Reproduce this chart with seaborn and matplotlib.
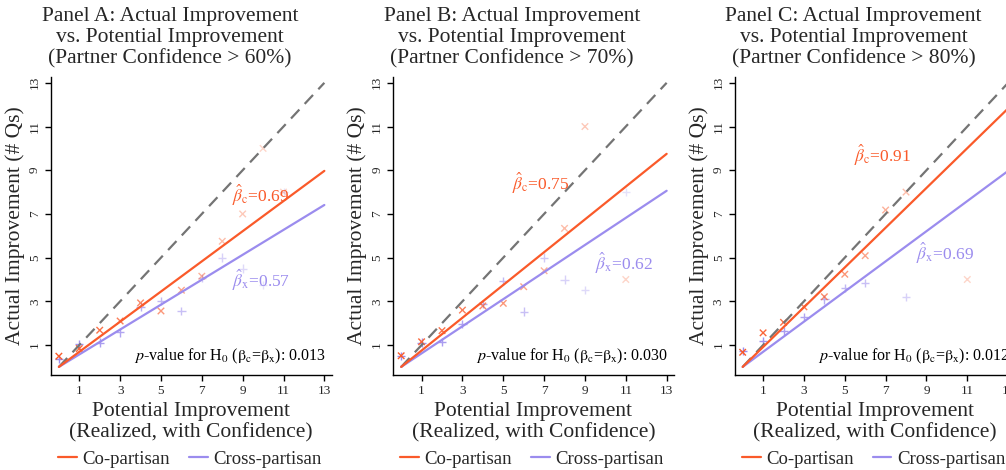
import numpy as np
import pandas as pd
import matplotlib
matplotlib.use("Agg")
import matplotlib.pyplot as plt
import seaborn as sns
from matplotlib.lines import Line2D

sns.set_theme(style="white")
plt.rcParams['font.family'] = ['Liberation Serif', 'DejaVu Serif']
plt.rcParams['mathtext.fontset'] = 'stix'

# ---------------- data ----------------
panel_titles = ["Panel A: Actual Improvement\nvs. Potential Improvement\n(Partner Confidence > 60%)",
                "Panel B: Actual Improvement\nvs. Potential Improvement\n(Partner Confidence > 70%)",
                "Panel C: Actual Improvement\nvs. Potential Improvement\n(Partner Confidence > 80%)"]

co_x_A = [0, 1, 2, 3, 4, 5, 6, 7, 8, 9, 10, 11]
co_y_A = [0.49, 0.84, 1.68, 2.10, 2.93, 2.56, 3.51, 4.15, 5.75, 7.0, 10.0, 8.0]
cr_x_A = [0, 1, 2, 3, 4, 5, 6, 7, 8, 9, 10, 11]
cr_y_A = [0.35, 1.05, 1.11, 1.58, 2.75, 3.01, 2.57, 4.08, 5.0, 4.5, 3.75, 8.0]

co_x_B = [0, 1, 2, 3, 4, 5, 6, 7, 8, 9, 11]
co_y_B = [0.51, 1.15, 1.66, 2.60, 2.79, 2.91, 3.67, 4.40, 6.34, 11.0, 4.0]
cr_x_B = [0, 1, 2, 3, 4, 5, 6, 7, 8, 9, 11]
cr_y_B = [0.51, 1.11, 1.15, 1.95, 2.88, 3.93, 2.53, 5.0, 4.0, 3.52, 8.0]

co_x_C = [0, 1, 2, 3, 4, 5, 6, 7, 8, 11]
co_y_C = [0.67, 1.56, 2.04, 2.75, 3.21, 4.24, 5.09, 7.18, 8.0, 4.0]
cr_x_C = [0, 1, 2, 3, 4, 5, 6, 8]
cr_y_C = [0.74, 1.20, 1.64, 2.27, 3.09, 3.62, 3.85, 3.21]

beta_co = [0.69, 0.75, 0.91]
beta_cr = [0.57, 0.62, 0.69]
p_values = ["0.013", "0.030", "0.012"]

# label anchor positions (data coords)
beta_co_label_xy = [(8.5, 7.86), (5.45, 8.4), (5.45, 9.69)]
beta_cr_label_xy = [(8.5, 3.97), (9.5, 4.74), (8.5, 5.2)]

ticks = [1, 3, 5, 7, 9, 11, 13]
line_x = [0, 13]

ORANGE = "#FA5A2A"
PURPLE = "#9B8CEE"
GRAY = "#747474"

co_sets = [(co_x_A, co_y_A), (co_x_B, co_y_B), (co_x_C, co_y_C)]
cr_sets = [(cr_x_A, cr_y_A), (cr_x_B, cr_y_B), (cr_x_C, cr_y_C)]

W, H = 1006, 470
fig = plt.figure(figsize=(W / 100, H / 100), dpi=100)

ax_w = 281.0
ax_h = 298.3
ax_bottom_px = 375.0
lefts = [50.7, 393.0, 734.5]


def alpha_for(x):
    return float(np.clip(1.0 - 0.075 * x, 0.25, 1.0))


for i in range(3):
    left = lefts[i]
    ax = fig.add_axes([left / W, (H - ax_bottom_px) / H, ax_w / W, ax_h / H])
    ax.set_facecolor("white")

    # 45-degree line and fitted lines
    df_lines = pd.DataFrame({"x": line_x,
                             "diag": line_x,
                             "co": [beta_co[i] * v for v in line_x],
                             "cr": [beta_cr[i] * v for v in line_x]})
    sns.lineplot(data=df_lines, x="x", y="diag", ax=ax, color=GRAY, lw=1.6,
                 dashes=False, linestyle=(0, (5.5, 3.5)))
    sns.lineplot(data=df_lines, x="x", y="cr", ax=ax, color=PURPLE, lw=1.6)
    sns.lineplot(data=df_lines, x="x", y="co", ax=ax, color=ORANGE, lw=1.6)

    # scatter points
    cx, cy = cr_sets[i]
    sns.scatterplot(x=cx, y=cy, ax=ax, marker="+", s=36, linewidth=1.0, color=PURPLE)
    coll = ax.collections[-1]
    rgba = np.array([matplotlib.colors.to_rgba(PURPLE, alpha_for(v)) for v in cx])
    coll.set_edgecolors(rgba)
    coll.set_facecolors(rgba)

    ox, oy = co_sets[i]
    sns.scatterplot(x=ox, y=oy, ax=ax, marker="x", s=22, linewidth=1.0, color=ORANGE)
    coll = ax.collections[-1]
    rgba = np.array([matplotlib.colors.to_rgba(ORANGE, alpha_for(v)) for v in ox])
    coll.set_edgecolors(rgba)
    coll.set_facecolors(rgba)

    ax.set_xlim(-0.4, 13.36)
    ax.set_ylim(-0.37, 13.28)
    ax.set_xticks(ticks)
    ax.set_yticks(ticks)
    ax.set_xticklabels([str(t) for t in ticks], fontsize=9.5)
    ax.set_yticklabels([str(t) for t in ticks], fontsize=9.5, rotation=90, va="center")
    ax.tick_params(axis="both", which="major", direction="out", length=4, width=1,
                   color="black", pad=3, bottom=True, left=True)
    for s in ["top", "right"]:
        ax.spines[s].set_visible(False)
    for s in ["left", "bottom"]:
        ax.spines[s].set_color("black")
        ax.spines[s].set_linewidth(1.0)
    ax.grid(False)

    ax.set_xlabel("Potential Improvement\n(Realized, with Confidence)", fontsize=15.5,
                  labelpad=4, linespacing=1.12)
    ax.set_ylabel("Actual Improvement (# Qs)", fontsize=15.5, labelpad=3)

    # beta labels
    bx, by = beta_co_label_xy[i]
    ax.text(bx, by, r"$\hat{\beta}_{\mathrm{c}}$=%.2f" % beta_co[i], color=ORANGE,
            fontsize=12.5, ha="left", va="center")
    bx, by = beta_cr_label_xy[i]
    ax.text(bx, by, r"$\hat{\beta}_{\mathrm{x}}$=%.2f" % beta_cr[i], color=PURPLE,
            fontsize=12.5, ha="left", va="center")

    ax.text(13.05, 0.47,
            r"$p$-value for H$_0$ ($\mathrm{\beta_c}$=$\mathrm{\beta_x}$): " + p_values[i],
            fontsize=11.5, ha="right", va="center", color="black")

    handles = [Line2D([0], [0], color=ORANGE, lw=1.6),
               Line2D([0], [0], color=PURPLE, lw=1.6)]
    ax.legend(handles, ["Co-partisan", "Cross-partisan"], loc="center",
              bbox_to_anchor=(0.495, -0.283), ncol=2, frameon=False, fontsize=13.5,
              handlelength=1.0, handletextpad=0.3, columnspacing=1.0)

    # title centered on panel region
    cx_title = 170 + 341.7 * i
    fig.text(cx_title / W, 1 - 7 / H, panel_titles[i], ha="center", va="top",
             fontsize=15.5, linespacing=1.13)

fig.savefig("out.png", dpi=100)
